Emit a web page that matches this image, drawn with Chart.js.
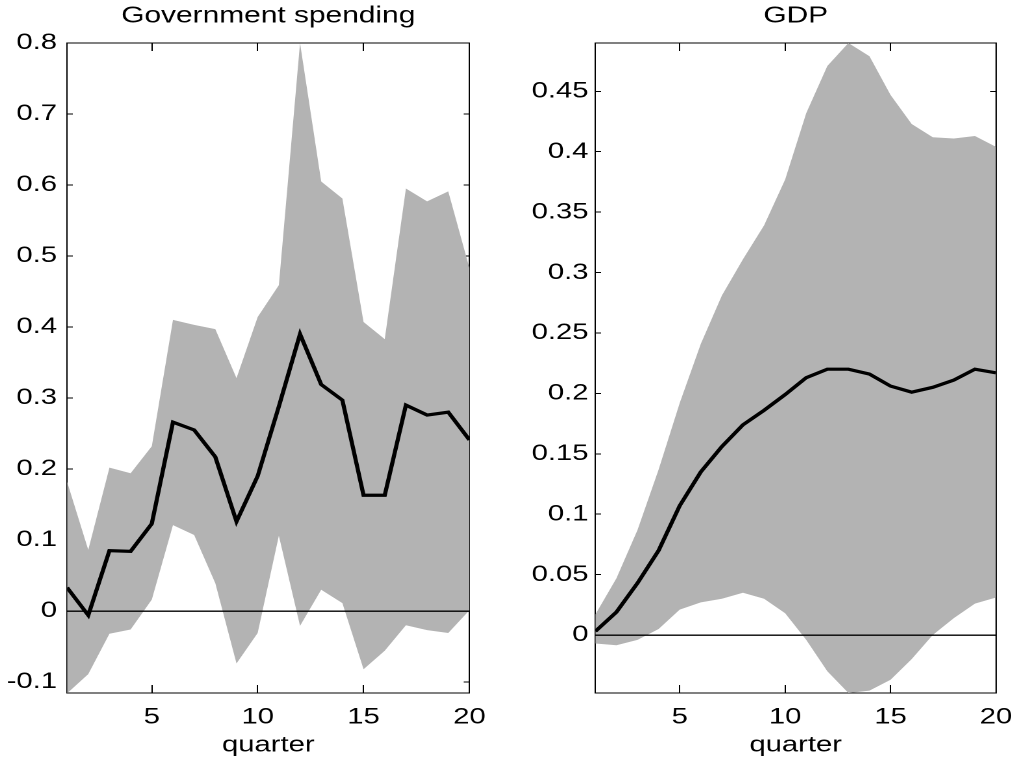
<!DOCTYPE html>
<html>
<head>
<meta charset="utf-8">
<script src="https://cdn.jsdelivr.net/npm/chart.js@4.4.0/dist/chart.umd.min.js"></script>
<style>
html,body{margin:0;padding:0;background:#fff;overflow:hidden;width:1013px;height:762px;}
canvas{position:absolute;top:0;}
</style>
</head>
<body>
<canvas id="c1" width="390" height="762" style="left:0px;width:506.5px;height:762px;"></canvas>
<canvas id="c2" width="390" height="762" style="left:506.5px;width:506.5px;height:762px;"></canvas>
<script>
// ---- data ----
const quarters = [1,2,3,4,5,6,7,8,9,10,11,12,13,14,15,16,17,18,19,20];
const xTickValues = [5,10,15,20];
const xTickLabels = ['5','10','15','20'];

const govMean  = [0.033,-0.006,0.085,0.084,0.123,0.266,0.255,0.217,0.126,0.190,0.288,0.390,0.319,0.297,0.163,0.163,0.290,0.276,0.280,0.241];
const govUpper = [0.182,0.086,0.202,0.194,0.232,0.410,0.403,0.397,0.328,0.414,0.459,0.800,0.605,0.581,0.407,0.383,0.595,0.577,0.591,0.483];
const govLower = [-0.116,-0.089,-0.032,-0.026,0.016,0.121,0.107,0.039,-0.074,-0.031,0.106,-0.021,0.030,0.011,-0.082,-0.056,-0.020,-0.027,-0.031,0.001];
const govTickValues = [-0.1,0,0.1,0.2,0.3,0.4,0.5,0.6,0.7,0.8];
const govTickLabels = ['-0.1','0','0.1','0.2','0.3','0.4','0.5','0.6','0.7','0.8'];

const gdpMean  = [0.003,0.019,0.043,0.070,0.107,0.135,0.156,0.174,0.186,0.199,0.213,0.220,0.220,0.216,0.206,0.201,0.205,0.211,0.220,0.217];
const gdpUpper = [0.017,0.047,0.087,0.137,0.192,0.241,0.281,0.311,0.339,0.377,0.432,0.471,0.490,0.479,0.447,0.423,0.412,0.411,0.413,0.404];
const gdpLower = [-0.007,-0.0085,-0.004,0.005,0.021,0.027,0.030,0.035,0.030,0.018,-0.004,-0.030,-0.048,-0.046,-0.037,-0.020,0.000,0.014,0.026,0.031];
const gdpTickValues = [0,0.05,0.1,0.15,0.2,0.25,0.3,0.35,0.4,0.45];
const gdpTickLabels = ['0','0.05','0.1','0.15','0.2','0.25','0.3','0.35','0.4','0.45'];

const zeroLevel = [0];

// ---- drawing ----
const FONT = "'Liberation Sans', Arial, Helvetica, sans-serif";
const BAND = '#b3b3b3';

function pts(arr){ return quarters.map((q,i)=>({x:q, y:arr[i]})); }
function fixed(vals){ return (s) => { s.ticks = vals.map(value => ({value})); }; }
function inward(len){ return {display:true, drawOnChartArea:false, drawTicks:true, tickLength:len, tickColor:'#000', tickWidth:1}; }
const border = {display:true, color:'#000', width:1};

function makeChart(id, title, mean, upper, lower, yMin, yMax, yVals, yLabels, L){
  return new Chart(document.getElementById(id), {
    type:'line',
    data:{datasets:[
      {data:pts(mean), borderColor:'#000', borderWidth:3.2, pointRadius:0, fill:false, order:0, tension:0},
      {data:pts(upper), borderColor:'rgba(0,0,0,0)', borderWidth:0, backgroundColor:BAND, pointRadius:0, fill:'+1', order:1},
      {data:pts(lower), borderColor:'rgba(0,0,0,0)', borderWidth:0, pointRadius:0, fill:false, order:2}
    ]},
    options:{
      responsive:false, animation:false, devicePixelRatio:2,
      events:[],
      layout:{padding:{left:0, right:L.padRight, top:0, bottom:0}},
      plugins:{
        legend:{display:false}, tooltip:{enabled:false},
        title:{display:true, text:title, fullSize:false, color:'#000',
               font:{family:FONT, size:23, weight:'normal'}, padding:{top:2.2, bottom:13.2}}
      },
      scales:{
        x:{type:'linear', position:'bottom', min:1, max:20,
           afterBuildTicks:fixed(xTickValues),
           ticks:{color:'#000', font:{family:FONT, size:22.5}, padding:19, maxRotation:0, autoSkip:false,
                  callback:(v)=>xTickLabels[xTickValues.indexOf(v)]},
           grid:inward(-8), border:border,
           title:{display:true, text:'quarter', color:'#000', font:{family:FONT, size:22.5}, padding:{top:0, bottom:3}},
           afterFit:(s)=>{ s.height = 69; s.paddingLeft = 0; s.paddingRight = 0; }},
        x2:{type:'linear', position:'top', min:1, max:20,
           afterBuildTicks:fixed(xTickValues),
           ticks:{display:false}, grid:inward(-8), border:border,
           afterFit:(s)=>{ s.height = 0; s.paddingLeft = 0; s.paddingRight = 0; }},
        y:{type:'linear', position:'left', min:yMin, max:yMax,
           afterBuildTicks:fixed(yVals),
           ticks:{color:'#000', font:{family:FONT, size:22.5}, padding:L.yPad,
                  callback:(v)=>yLabels[yVals.indexOf(v)]},
           grid:inward(-4.4), border:border,
           afterFit:(s)=>{ s.width = L.yWidth; s.paddingTop = 0; s.paddingBottom = 0; }},
        y2:{type:'linear', position:'right', min:yMin, max:yMax,
           afterBuildTicks:fixed(yVals),
           ticks:{display:false}, grid:inward(-4.4), border:border,
           afterFit:(s)=>{ s.width = 0; s.paddingTop = 0; s.paddingBottom = 0; }},
        y0:{type:'linear', position:'left', min:yMin, max:yMax,
           afterBuildTicks:fixed(zeroLevel),
           ticks:{display:false, z:2},
           grid:{display:true, drawOnChartArea:true, drawTicks:false, color:'#000', lineWidth:1.4, z:2},
           border:{display:false, z:2},
           afterFit:(s)=>{ s.width = 0; s.paddingTop = 0; s.paddingBottom = 0; }}
      }
    }
  });
}

makeChart('c1', 'Government spending', govMean, govUpper, govLower, -0.1155, 0.8,
          govTickValues, govTickLabels, {yWidth:51.6, padRight:28.9, yPad:12.1});
makeChart('c2', 'GDP', gdpMean, gdpUpper, gdpLower, -0.048, 0.49,
          gdpTickValues, gdpTickLabels, {yWidth:68.1, padRight:13.1, yPad:9.7});
</script>
</body>
</html>
